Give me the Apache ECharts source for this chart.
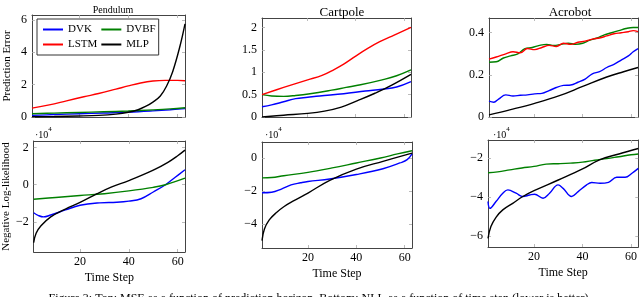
<!DOCTYPE html>
<html><head><meta charset="utf-8">
<script src="https://cdn.jsdelivr.net/npm/echarts@6/dist/echarts.min.js"></script>
<style>html,body{margin:0;padding:0;background:#fff}#c{width:640px;height:297px}</style>
</head><body><div id="c"></div>
<script>
// ---- data ----
const seriesNames = ['DVK', 'DVBF', 'LSTM', 'MLP'];
const panelTitles = ['Pendulum', 'Cartpole', 'Acrobot'];
const xTicks = [20, 40, 60];
const yTicksTop = [[0, 2, 4, 6], [0, 0.5, 1, 1.5, 2], [0, 0.2, 0.4]];
const yTicksBottom = [[-2, 0, 2], [-4, -2, 0], [-6, -4, -2]];

// Prediction error (top row), [time step, value]
const pendDVK  = [[1,0.1],[10,0.15],[20,0.2],[30,0.25],[40,0.3],[50,0.38],[57,0.45],[63,0.52]];
const pendDVBF = [[1,0.2],[10,0.24],[20,0.28],[30,0.32],[40,0.37],[50,0.44],[57,0.5],[63,0.57]];
const pendLSTM = [[1,0.55],[8,0.75],[15,1.0],[22,1.25],[28,1.45],[35,1.72],[40,1.92],[45,2.1],[50,2.22],[55,2.26],[60,2.26],[63,2.24]];
const pendMLP  = [[1,0.02],[10,0.03],[20,0.06],[28,0.1],[35,0.18],[40,0.29],[44,0.45],[47,0.65],[50,0.92],[53,1.3],[55.5,1.9],[58,2.8],[61,4.4],[63,5.75]];

const cartDVK  = [[1,0.23],[5,0.27],[10,0.34],[15,0.41],[20,0.44],[25,0.47],[35,0.52],[44,0.58],[51,0.62],[57,0.67],[63,0.79]];
const cartDVBF = [[1,0.5],[5,0.47],[10,0.46],[15,0.48],[21,0.52],[30,0.6],[36,0.66],[42,0.72],[51,0.83],[57,0.92],[63,1.05]];
const cartLSTM = [[1,0.5],[10,0.66],[20,0.83],[26,0.93],[31,1.06],[35,1.18],[40,1.36],[45,1.53],[50,1.68],[56,1.83],[63,2.0]];
const cartMLP  = [[1,0],[10,0.04],[20,0.08],[27,0.13],[34,0.22],[41,0.37],[48,0.53],[55,0.71],[63,0.95]];

const acroDVK  = [[1,0.075],[3,0.07],[5,0.085],[8,0.105],[11,0.1],[14,0.103],[17,0.105],[20,0.11],[23,0.112],[26,0.125],[29,0.14],[32,0.15],[35,0.152],[38,0.165],[41,0.18],[44,0.205],[47,0.215],[50,0.235],[53,0.25],[56,0.27],[59,0.29],[61,0.31],[63,0.325]];
const acroDVBF = [[1,0.26],[4,0.262],[7,0.28],[10,0.29],[13,0.3],[16,0.325],[19,0.33],[22,0.34],[25,0.345],[28,0.34],[31,0.345],[34,0.35],[37,0.345],[40,0.35],[43,0.365],[46,0.375],[49,0.39],[52,0.4],[55,0.41],[58,0.42],[61,0.425],[63,0.425]];
const acroLSTM = [[1,0.275],[4,0.285],[8,0.3],[11,0.31],[14,0.305],[17,0.325],[20,0.32],[23,0.33],[26,0.34],[29,0.335],[32,0.35],[35,0.345],[38,0.355],[41,0.36],[44,0.37],[47,0.375],[50,0.385],[53,0.395],[56,0.4],[59,0.405],[61,0.41],[63,0.405]];
const acroMLP  = [[1,0.01],[10,0.035],[20,0.065],[30,0.1],[40,0.145],[50,0.19],[57,0.215],[63,0.235]];

// Negative log-likelihood (bottom row), in units of 10^4
const pendNllDVK  = [[1,-1.5],[3,-1.65],[5,-1.72],[8,-1.62],[14,-1.35],[20,-1.1],[28,-0.97],[35,-0.94],[40,-0.88],[45,-0.75],[50,-0.39],[55,0.0],[59,0.4],[63,0.8]];
const pendNllDVBF = [[1,-0.78],[10,-0.68],[20,-0.58],[30,-0.48],[40,-0.33],[50,-0.14],[55,0.0],[63,0.35]];
const pendNllMLP  = [[1,-3.1],[2,-2.6],[4,-2.2],[8,-1.72],[14,-1.3],[20,-0.95],[27,-0.48],[33,-0.12],[40,0.22],[50,0.78],[56,1.2],[60,1.55],[63,1.85]];

const cartNllDVK  = [[1,-2.1],[5,-2.07],[9,-1.88],[13,-1.63],[17,-1.5],[20,-1.42],[29,-1.27],[40,-1.0],[51,-0.65],[58,-0.3],[61,-0.1],[63,0.25]];
const cartNllDVBF = [[1,-1.2],[5,-1.18],[10,-1.07],[20,-0.87],[30,-0.6],[40,-0.3],[50,0.0],[57,0.25],[63,0.44]];
const cartNllMLP  = [[1,-5.0],[2,-4.3],[4,-3.75],[7,-3.3],[10,-2.95],[14,-2.6],[20,-2.12],[29,-1.35],[40,-0.67],[51,-0.2],[63,0.3]];

const acroNllDVK  = [[1,-4.23],[1.8,-4.58],[4.3,-4.23],[7.1,-3.8],[9.2,-3.63],[12.6,-3.8],[15.4,-3.97],[18.2,-3.89],[20.2,-3.85],[23.7,-4.06],[26.4,-3.8],[29.9,-3.37],[32,-3.55],[35.5,-3.97],[38.2,-3.72],[41.7,-3.37],[43.8,-3.25],[47.2,-3.29],[50.7,-3.24],[54.1,-2.98],[57.6,-2.98],[60.4,-2.77],[63,-2.52]];
const acroNllDVBF = [[1,-2.75],[5,-2.7],[10,-2.6],[15,-2.5],[20,-2.42],[25,-2.3],[30,-2.28],[35,-2.25],[40,-2.2],[45,-2.1],[50,-2.02],[55,-1.92],[60,-1.82],[63,-1.78]];
const acroNllMLP  = [[1,-6.12],[2.2,-5.52],[4.3,-5.04],[7.1,-4.66],[11.2,-4.32],[15.4,-3.97],[20,-3.67],[30,-3.12],[40,-2.55],[47,-2.08],[55,-1.78],[63,-1.5]];

// ---- layout ----
const FONT = 'Liberation Serif';
const colors = { DVK: '#0000ff', DVBF: '#008000', LSTM: '#ff0000', MLP: '#000000' };
const grids = [
  { left: 32, top: 15, width: 153, height: 102 },
  { left: 262, top: 18, width: 149, height: 99 },
  { left: 489, top: 18, width: 149, height: 99 },
  { left: 32, top: 141, width: 153, height: 111 },
  { left: 262, top: 142, width: 150, height: 106 },
  { left: 488, top: 140, width: 151, height: 107 }
];
const yRanges = [[0, 6.3], [0, 2.21], [0, 0.47], [-3.6, 2.34], [-5.45, 0.97], [-6.57, -1.06]];
const yTicks = yTicksTop.concat(yTicksBottom);
const panelData = [
  { DVK: pendDVK, DVBF: pendDVBF, LSTM: pendLSTM, MLP: pendMLP },
  { DVK: cartDVK, DVBF: cartDVBF, LSTM: cartLSTM, MLP: cartMLP },
  { DVK: acroDVK, DVBF: acroDVBF, LSTM: acroLSTM, MLP: acroMLP },
  { DVK: pendNllDVK, DVBF: pendNllDVBF, MLP: pendNllMLP },
  { DVK: cartNllDVK, DVBF: cartNllDVBF, MLP: cartNllMLP },
  { DVK: acroNllDVK, DVBF: acroNllDVBF, MLP: acroNllMLP }
];

const frame = { show: true, onZero: false, lineStyle: { color: '#444', width: 1 } };
const tickStyle = (vals) => ({ show: true, inside: true, length: 3, customValues: vals, lineStyle: { color: '#aaa', width: 0.8 } });
const fmt = (v) => String(v).replace('-', '\u2212');

const xAxis = [], yAxis = [], series = [];
grids.forEach((g, i) => {
  const bottomRow = i >= 3;
  xAxis.push({
    type: 'value', gridIndex: i, min: 1, max: 63, position: 'bottom',
    axisLine: frame, axisTick: tickStyle(xTicks), splitLine: { show: false },
    axisLabel: { show: bottomRow, customValues: xTicks, margin: 4, fontFamily: FONT, fontSize: 12, color: '#000' },
    name: bottomRow ? 'Time Step' : '', nameLocation: 'middle', nameGap: 20,
    nameTextStyle: { fontFamily: FONT, fontSize: 12, color: '#000' }
  });
  xAxis.push({
    type: 'value', gridIndex: i, min: 1, max: 63, position: 'top',
    axisLine: frame, axisTick: tickStyle(xTicks), splitLine: { show: false }, axisLabel: { show: false }
  });
  const yName = i === 0 ? 'Prediction Error' : (i === 3 ? 'Negative Log-likelihood' : '');
  yAxis.push({
    type: 'value', gridIndex: i, min: yRanges[i][0], max: yRanges[i][1], position: 'left',
    axisLine: frame, axisTick: tickStyle(yTicks[i]), splitLine: { show: false },
    axisLabel: { customValues: yTicks[i], formatter: fmt, margin: 5, fontFamily: FONT, fontSize: 12, color: '#000' },
    name: yName, nameLocation: 'middle', nameRotate: 90, nameGap: 19,
    nameTextStyle: { fontFamily: FONT, fontSize: 11, color: '#000' }
  });
  yAxis.push({
    type: 'value', gridIndex: i, min: yRanges[i][0], max: yRanges[i][1], position: 'right',
    axisLine: frame, axisTick: tickStyle(yTicks[i]), splitLine: { show: false }, axisLabel: { show: false }
  });
  Object.keys(panelData[i]).forEach((name) => {
    series.push({
      name, type: 'line', xAxisIndex: 2 * i, yAxisIndex: 2 * i,
      data: panelData[i][name], smooth: 0.4, symbol: 'none',
      lineStyle: { color: colors[name], width: 1.4 }, itemStyle: { color: colors[name] },
      z: name === 'MLP' ? 3 : 2
    });
  });
});

const titleCenters = [108, 337, 565];
const titles = panelTitles.map((t, i) => ({
  text: t, left: titleCenters[i], top: i === 0 ? 0 : 1, textAlign: 'center',
  textStyle: { fontFamily: FONT, fontWeight: 'normal', fontSize: i === 0 ? 10 : 13, color: '#000' }
}));

const expLabelX = [35, 265, 493];
const graphics = expLabelX.map((x) => ({
  type: 'text', left: x, top: 126,
  style: { text: '{a|\u00b710}{b|4}', rich: {
    a: { fontFamily: FONT, fontSize: 10, fill: '#000', padding: [4, 0, 0, 0] },
    b: { fontFamily: FONT, fontSize: 7, fill: '#000', verticalAlign: 'top' } } }
}));
graphics.push({
  type: 'text', left: 'center', top: 293,
  style: { text: 'Figure 3: Top: MSE as a function of prediction horizon. Bottom: NLL as a function of time step (lower is better).',
    fontFamily: FONT, fontSize: 12, fill: '#000' }
});

const chart = echarts.init(document.getElementById('c'), null, { renderer: 'canvas' });
chart.setOption({
  animation: false,
  backgroundColor: '#fff',
  title: titles,
  grid: grids,
  xAxis, yAxis, series,
  legend: {
    data: ['DVK', 'LSTM', 'DVBF', 'MLP'], orient: 'vertical', icon: 'rect',
    left: 37, top: 19, height: 30, itemGap: 4, itemWidth: 20, itemHeight: 2,
    padding: [5, 3, 5, 6], borderColor: '#333', borderWidth: 1, backgroundColor: '#fff',
    textStyle: { fontFamily: FONT, fontSize: 11, color: '#000', padding: [1, 0, 0, 0] }
  },
  graphic: graphics
});
</script></body></html>
